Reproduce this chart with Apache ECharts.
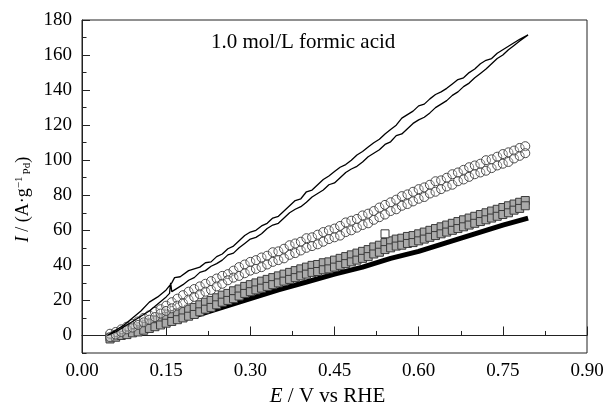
<!DOCTYPE html>
<html>
<head>
<meta charset="utf-8">
<title>formic acid</title>
<script src="https://cdn.jsdelivr.net/npm/echarts@6/dist/echarts.min.js"></script>
<style>
  html, body { margin: 0; padding: 0; background: #fff; }
  #chart { width: 607px; height: 408px; }
</style>
</head>
<body>
<div id="chart"></div>
<script>
// potential grid for the marker series (V vs RHE)
var potential = [0.05, 0.06, 0.07, 0.08, 0.09, 0.10, 0.11, 0.12, 0.13, 0.14, 0.15, 0.16, 0.17, 0.18, 0.19,
    0.20, 0.21, 0.22, 0.23, 0.24, 0.25, 0.26, 0.27, 0.28, 0.29, 0.30, 0.31, 0.32, 0.33, 0.34,
    0.35, 0.36, 0.37, 0.38, 0.39, 0.40, 0.41, 0.42, 0.43, 0.44, 0.45, 0.46, 0.47, 0.48, 0.49,
    0.50, 0.51, 0.52, 0.53, 0.54, 0.55, 0.56, 0.57, 0.58, 0.59, 0.60, 0.61, 0.62, 0.63, 0.64,
    0.65, 0.66, 0.67, 0.68, 0.69, 0.70, 0.71, 0.72, 0.73, 0.74, 0.75, 0.76, 0.77, 0.78, 0.79];

// circles, two scan branches
var circleUp = [1, 2, 3.5, 5, 6.5, 8, 10, 11.5, 13.5, 15, 17, 19, 21, 23, 25,
    26.5, 28, 29.5, 31, 32.5, 34, 35, 37, 39, 40.5, 42, 43, 44.5, 45.5, 47.5,
    48, 49.5, 51.5, 52.5, 53.5, 55.5, 56, 57.5, 59, 60, 61, 62.5, 64.5, 65.5, 66.5,
    68.5, 69.5, 71, 73, 74.5, 76, 77.5, 79.5, 80.5, 82, 83.5, 84.5, 86, 88, 88.5,
    90, 92, 93, 94.5, 96, 97, 98, 100, 100.5, 102, 103.5, 104.5, 105.5, 107, 108];
var circleDown = [-1, 0.5, 2, 3.5, 4.5, 6, 7.5, 9, 10.5, 12.5, 14, 15.5, 17, 18.5, 20.5,
    22, 23.5, 25, 26, 28, 29.5, 31.5, 33, 34, 35.5, 37, 38, 39, 40.5, 42,
    43, 44, 46, 47, 48.5, 50, 51, 52, 53.5, 55, 56, 57, 59, 60, 61.5,
    63, 64, 66, 67.5, 69, 71, 72, 74, 75, 76.5, 78, 79, 81, 82, 83.5,
    85, 86, 88, 89, 90.5, 92, 93, 94, 95.5, 97, 98, 99, 101, 102.5, 104];

// squares, two scan branches
var squareUp = [-1, 0.5, 1.5, 3, 4, 5, 6.5, 7.5, 9, 10, 11, 12, 13, 14, 15,
    16, 17.5, 19, 20, 21.5, 23, 24, 25.5, 26.5, 28, 29, 30, 31, 32, 33,
    34, 35, 36, 37, 38, 39, 40, 40.5, 41.5, 42, 43, 44, 45, 46, 47,
    48, 49, 50.5, 51.5, 53, 54, 55, 55.5, 56.5, 57, 58, 59, 60, 61, 62,
    63, 64, 65, 66, 67, 68, 69, 70, 71, 72, 73, 74, 75, 76, 77];
var squareDown = [-2, -1, 0, 0.5, 1.5, 2, 3, 4, 5, 6, 7, 8, 9, 10, 11,
    12, 13.5, 15, 16, 17.5, 19, 20, 21, 22.5, 24, 25, 26, 27, 28, 29,
    30, 31, 32, 33, 34, 35, 36, 36.5, 37.5, 38, 39, 40, 41, 42, 43,
    44, 45, 46.5, 47.5, 49, 50, 51, 51.5, 52.5, 53, 54, 55, 56, 57, 58,
    59, 60, 61, 62, 63, 64, 65, 66, 67, 68, 69, 70, 71.5, 72.5, 74];
var squareStrayE = [0.54];
var squareStrayI = [58];

// filled black points (dense, drawn as a thick trace)
var blackE = [0.045, 0.10, 0.15, 0.20, 0.25, 0.30, 0.35, 0.40, 0.45, 0.50, 0.55, 0.60, 0.65, 0.70, 0.75, 0.795];
var blackI = [-1, 3, 7, 11, 16, 21, 26, 30.5, 35, 39, 44, 48, 53, 58, 63, 67];

// solid line, forward and backward branches
var lineUpE = [0.045, 0.06, 0.075, 0.09, 0.105, 0.12, 0.135, 0.15, 0.16, 0.165, 0.175, 0.19, 0.20, 0.21, 0.22,
    0.23, 0.24, 0.25, 0.26, 0.27, 0.28, 0.29, 0.30, 0.31, 0.32, 0.33, 0.34, 0.35, 0.36, 0.37,
    0.38, 0.39, 0.40, 0.41, 0.42, 0.43, 0.44, 0.45, 0.46, 0.47, 0.48, 0.49, 0.50, 0.51, 0.52,
    0.53, 0.54, 0.55, 0.56, 0.57, 0.58, 0.59, 0.60, 0.61, 0.62, 0.63, 0.64, 0.65, 0.66, 0.67,
    0.68, 0.69, 0.70, 0.71, 0.72, 0.73, 0.74, 0.75, 0.76, 0.77, 0.78, 0.795];
var lineUpI = [0, 3, 6, 10, 14, 19, 22, 26, 30, 33, 33.5, 37, 38, 39, 41.5,
    42, 45, 46.5, 49.5, 51, 54, 57, 59, 60, 62.5, 64, 67, 68, 71, 74,
    77, 78, 82, 83, 86, 89, 91, 93.5, 96, 97.5, 100, 103, 105, 107.5, 110,
    112, 115, 117.5, 120, 124, 126, 128, 131, 132, 135, 137.5, 139, 141, 143.5, 146,
    147, 150, 152, 155, 157, 158, 161, 163, 165, 167, 169, 171.5];
var lineDownE = [0.045, 0.06, 0.075, 0.09, 0.105, 0.12, 0.135, 0.15, 0.156, 0.158, 0.16, 0.17, 0.18, 0.19, 0.20,
    0.21, 0.22, 0.23, 0.24, 0.25, 0.26, 0.27, 0.28, 0.29, 0.30, 0.31, 0.32, 0.33, 0.34, 0.35,
    0.36, 0.37, 0.38, 0.39, 0.40, 0.41, 0.42, 0.43, 0.44, 0.45, 0.46, 0.47, 0.48, 0.49, 0.50,
    0.51, 0.52, 0.53, 0.54, 0.55, 0.56, 0.57, 0.58, 0.59, 0.60, 0.61, 0.62, 0.63, 0.64, 0.65,
    0.66, 0.67, 0.68, 0.69, 0.70, 0.71, 0.72, 0.73, 0.74, 0.75, 0.76, 0.77, 0.78, 0.795];
var lineDownI = [0, 2, 5, 8, 11, 14, 18, 22, 24, 30, 25, 27, 29, 31.5, 33,
    36, 37, 39.5, 41, 43, 46, 47, 50, 52.5, 55, 56, 58, 61, 63, 64,
    67, 70, 72, 73.5, 76, 79, 81, 83, 86, 87, 90, 93, 95, 96.5, 99,
    102, 104, 106, 109, 110.5, 114, 115, 118, 121, 123, 124.5, 127, 130, 132, 134,
    137, 139, 142, 144, 147, 149.5, 152, 155, 158, 160, 163, 165.5, 168, 171.5];

var yTicks = [0, 20, 40, 60, 80, 100, 120, 140, 160, 180];
var yMinorTicks = [-10, 10, 30, 50, 70, 90, 110, 130, 150, 170];

function pairs(xs, ys) {
    var out = [];
    for (var i = 0; i < xs.length; i++) out.push([xs[i], ys[i]]);
    return out;
}

var serif = '"Liberation Serif", "Times New Roman", serif';
var myChart = echarts.init(document.getElementById('chart'));

var lineData = pairs(lineUpE, lineUpI).concat(pairs(lineDownE, lineDownI).reverse());
var squareData = pairs(potential, squareUp).concat(pairs(potential, squareDown));
var circleData = pairs(potential, circleUp).concat(pairs(potential, circleDown));

var option = {
    animation: false,
    backgroundColor: '#fff',
    textStyle: { fontFamily: serif, color: '#000' },
    title: {
        text: '1.0 mol/L formic acid',
        left: 206,
        top: 27,
        textStyle: { fontFamily: serif, fontSize: 21, fontWeight: 'normal', color: '#000' }
    },
    grid: {
        left: 82, right: 20, top: 20, bottom: 55,
        outerBoundsMode: 'none',
        show: true,
        borderColor: '#222',
        borderWidth: 1
    },
    xAxis: {
        type: 'value',
        min: 0,
        max: 0.9,
        interval: 0.15,
        name: '{i|E} / V vs RHE',
        nameLocation: 'middle',
        nameGap: 33,
        nameTextStyle: {
            fontFamily: serif, fontSize: 21, color: '#000',
            padding: [0, 14, 0, 0],
            rich: { i: { fontFamily: serif, fontSize: 21, fontStyle: 'italic' } }
        },
        axisLine: { lineStyle: { color: '#222', width: 1 } },
        axisTick: { inside: true, length: 9, lineStyle: { color: '#222' } },
        minorTick: { show: true, splitNumber: 2, length: 4.5, lineStyle: { color: '#222' } },
        splitLine: { show: false },
        axisLabel: {
            margin: 9,
            fontFamily: serif, fontSize: 19, color: '#000',
            formatter: function (v) { return v.toFixed(2); }
        }
    },
    yAxis: [{
        type: 'value',
        min: -10,
        max: 180,
        name: '{i|I} / (A·g{sup|−1}{sub|Pd})',
        nameLocation: 'middle',
        nameRotate: 90,
        nameGap: 48,
        nameTextStyle: {
            fontFamily: serif, fontSize: 18, color: '#000',
            padding: [0, 26, 0, 0],
            rich: {
                i: { fontFamily: serif, fontSize: 18, fontStyle: 'italic' },
                sup: { fontFamily: serif, fontSize: 11, verticalAlign: 'top', padding: [0, 0, 8, 0] },
                sub: { fontFamily: serif, fontSize: 11, verticalAlign: 'bottom', padding: [8, 0, 0, 2] }
            }
        },
        axisLine: { show: true, lineStyle: { color: '#222', width: 1 } },
        axisTick: { inside: true, length: 8, customValues: yTicks, lineStyle: { color: '#222' } },
        splitLine: { show: false },
        axisLabel: {
            margin: 10,
            customValues: yTicks,
            fontFamily: serif, fontSize: 19, color: '#000'
        }
    }, {
        type: 'value',
        min: -10,
        max: 180,
        position: 'left',
        axisLine: { show: false },
        axisTick: { show: true, inside: true, length: 4.5, customValues: yMinorTicks, lineStyle: { color: '#222' } },
        axisLabel: { show: false },
        splitLine: { show: false }
    }],
    series: [{
        type: 'line',
        data: pairs(blackE, blackI),
        symbol: 'none',
        lineStyle: { color: '#000', width: 5 },
        z: 2
    }, {
        type: 'scatter',
        data: squareData,
        symbol: 'rect',
        symbolSize: 8,
        itemStyle: { color: '#aaaaaa', borderColor: '#3a3a3a', borderWidth: 1, opacity: 1 },
        z: 3
    }, {
        type: 'scatter',
        data: pairs(squareStrayE, squareStrayI),
        symbol: 'rect',
        symbolSize: 8,
        itemStyle: { color: '#fff', borderColor: '#3a3a3a', borderWidth: 1, opacity: 1 },
        z: 3
    }, {
        type: 'scatter',
        data: circleData,
        symbol: 'circle',
        symbolSize: 9,
        itemStyle: { color: 'rgba(255,255,255,0.3)', borderColor: '#4a4a4a', borderWidth: 1, opacity: 1 },
        z: 4
    }, {
        type: 'line',
        data: lineData,
        symbol: 'none',
        lineStyle: { color: '#000', width: 1.3 },
        z: 5
    }]
};

myChart.setOption(option);
</script>
</body>
</html>
